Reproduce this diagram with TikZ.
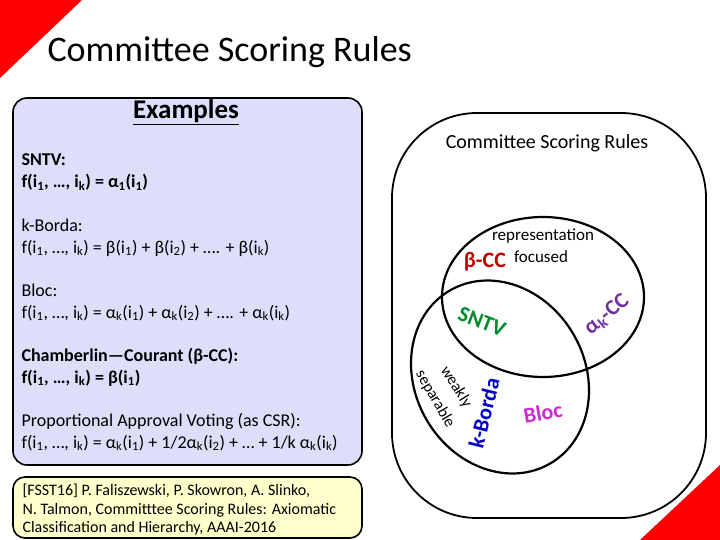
\documentclass[tikz,border=0pt]{standalone}
\usepackage{fontspec}
\setmainfont{Carlito}
\definecolor{exfill}{RGB}{221,223,250}
\definecolor{reffill}{RGB}{255,255,204}
\definecolor{ccred}{RGB}{192,0,0}
\definecolor{sntvgreen}{RGB}{0,140,40}
\definecolor{akpurple}{RGB}{112,48,160}
\definecolor{bordablue}{RGB}{0,0,200}
\definecolor{blocpink}{RGB}{210,40,210}
\newcommand{\iy}[1]{i\textsubscript{#1}}
\newcommand{\ak}{α\textsubscript{k}}

\begin{document}
\begin{tikzpicture}[x=1pt, y=-1pt,
  rule/.style={anchor=base west, font=\fontsize{18}{22}\selectfont},
  refline/.style={anchor=base west, font=\fontsize{16}{19}\selectfont},
  tag/.style={font=\fontsize{22}{26}\selectfont\bfseries},
  hint/.style={font=\fontsize{17}{20}\selectfont}]
\useasboundingbox (0,0) rectangle (720,540);

% corner marks
\fill[red] (0,0) -- (82,0) -- (0,78) -- cycle;
\fill[red] (640,540) -- (720,465) -- (720,540) -- cycle;

\node[anchor=base west, font=\fontsize{36}{40}\selectfont] (title) at (44,62) {Committee Scoring Rules};

% examples box
\draw[line width=1.6pt, rounded corners=14pt, fill=exfill] (13,98) rectangle (362,465);
\node[anchor=base, font=\fontsize{27}{30}\selectfont\bfseries] (examples) at (186,119) {\underline{Examples}};

\node[rule, font=\fontsize{18}{22}\selectfont\bfseries] (sntv) at (18,166) {SNTV:};
\node[rule, font=\fontsize{18}{22}\selectfont\bfseries] (sntvf) at (18,188) {f(\iy1, …, \iy{k}) = α\textsubscript{1}(\iy1)};
\node[rule] (borda) at (18,231) {k-Borda:};
\node[rule] (bordaf) at (18,253) {f(\iy1, …, \iy{k}) = β(\iy1) + β(\iy2) + …. + β(\iy{k})};
\node[rule] (bloc) at (18,296) {Bloc:};
\node[rule] (blocf) at (18,318) {f(\iy1, …, \iy{k}) = \ak(\iy1) + \ak(\iy2) + …. + \ak(\iy{k})};
\node[rule, font=\fontsize{18}{22}\selectfont\bfseries] (cc) at (18,361) {Chamberlin—Courant (β-CC):};
\node[rule, font=\fontsize{18}{22}\selectfont\bfseries] (ccf) at (18,383) {f(\iy1, …, \iy{k}) = β(\iy1)};
\node[rule] (pav) at (18,426) {Proportional Approval Voting (as CSR):};
\node[rule] (pavf) at (18,448) {f(\iy1, …, \iy{k}) = \ak(\iy1) + 1/2\ak(\iy2) + … + 1/k \ak(\iy{k})};

% reference box
\draw[line width=1.6pt, rounded corners=12pt, fill=reffill] (13,477) rectangle (362,538);
\node[refline] (ref1) at (19,495) {[FSST16] P. Faliszewski, P. Skowron, A. Slinko,};
\node[refline] (ref2) at (19,514) {N. Talmon, Committtee Scoring Rules: Axiomatic};
\node[refline] (ref3) at (19,532) {Classification and Hierarchy, AAAI-2016};

% venn diagram
\draw[line width=1.8pt, rounded corners=85pt] (392,113) rectangle (706,518);
\node[font=\fontsize{20}{24}\selectfont] (csr) at (547,143) {Committee Scoring Rules};

\draw[line width=2.2pt] (543,297) ellipse [x radius=101, y radius=80];
\draw[line width=2.2pt, rotate around={30:(500,377)}] (500,377) ellipse [x radius=85, y radius=100];

\node[hint] (repr) at (543,236) {representation};
\node[hint] (focus) at (541,257) {focused};
\node[tag, text=ccred] (betacc) at (485,262) {β-CC};
\node[tag, text=sntvgreen, rotate=-21] (sntvtag) at (482,322) {SNTV};
\node[tag, text=akpurple, rotate=40] (akcc) at (607,315) {\ak-CC};
\node[hint, font=\fontsize{16}{19}\selectfont, rotate=-58] (weak) at (456,387) {weakly};
\node[hint, font=\fontsize{16}{19}\selectfont, rotate=-60] (sep) at (435,399) {separable};
\node[tag, text=bordablue, rotate=76] (kborda) at (484,413) {k-Borda};
\node[tag, text=blocpink, rotate=10] (bloctag) at (543,413) {Bloc};

\end{tikzpicture}
\end{document}
